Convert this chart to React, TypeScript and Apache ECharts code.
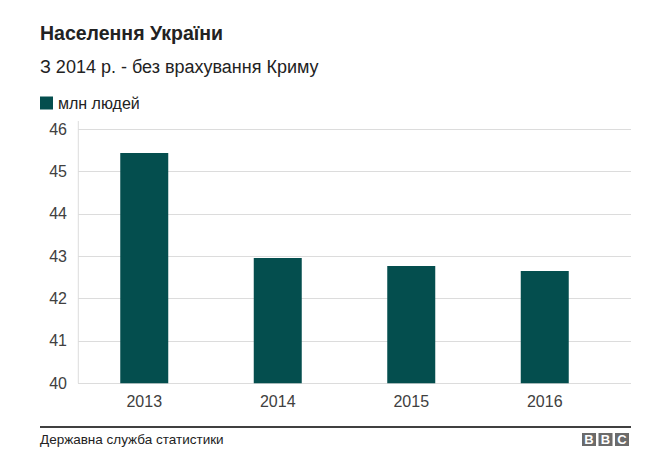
import React, { useEffect, useRef } from "react";
import * as echarts from "echarts";

const years = ["2013", "2014", "2015", "2016"];
const population = [45.44, 42.96, 42.77, 42.65];
const yMin = 40;
const yMax = 46;
const yStep = 1;

const titleText = "Населення України";
const subtitleText = "З 2014 р. - без врахування Криму";
const seriesName = "млн людей";
const sourceText = "Державна служба статистики";

const FONT = "'Liberation Sans', Arial, Helvetica, sans-serif";
const BAR = "#044e4e";
const GRID = "#dcdcdc";

export default function App() {
  const ref = useRef<HTMLDivElement>(null);
  useEffect(() => {
    if (!ref.current) return;
    const chart = echarts.init(ref.current, undefined, { renderer: "svg" });
    const logoLetters = ["B", "B", "C"];
    chart.setOption({
      animation: false,
      backgroundColor: "#ffffff",
      textStyle: { fontFamily: FONT },
      legend: {
        show: true,
        left: 40,
        top: 95,
        itemWidth: 13,
        itemHeight: 13,
        icon: "rect",
        padding: 0,
        textStyle: { fontSize: 16, color: "#222222", fontFamily: FONT },
        data: [seriesName],
      },
      grid: [
        { left: 78, right: 14, top: 129.3, bottom: 88.7, containLabel: false },
        { left: 77.5, right: 33.5, top: 129.3, bottom: 88.7, containLabel: false },
      ],
      xAxis: [
        { type: "category", gridIndex: 0, data: years, show: false },
        {
          type: "category",
          gridIndex: 1,
          data: years,
          axisLine: { show: false },
          axisTick: { show: false },
          axisLabel: { fontSize: 16, color: "#404040", margin: 10, fontFamily: FONT },
        },
      ],
      yAxis: [
        {
          type: "value",
          gridIndex: 0,
          min: yMin,
          max: yMax,
          interval: yStep,
          axisLine: { show: false },
          axisTick: { show: false },
          axisLabel: { fontSize: 16, color: "#404040", margin: 11, fontFamily: FONT },
          splitLine: { show: true, lineStyle: { color: GRID, width: 1 } },
        },
        {
          type: "value",
          gridIndex: 1,
          min: yMin,
          max: yMax,
          interval: yStep,
          show: false,
          splitLine: { show: false },
        },
      ],
      series: [
        {
          name: seriesName,
          type: "bar",
          xAxisIndex: 1,
          yAxisIndex: 1,
          data: population,
          barWidth: 48,
          itemStyle: { color: BAR },
        },
      ],
      graphic: [
        {
          type: "text",
          x: 40,
          y: 33.3,
          style: {
            text: titleText,
            fontSize: 19.5,
            fontWeight: "bold",
            fill: "#222222",
            fontFamily: FONT,
            verticalAlign: "middle",
          },
        },
        {
          type: "text",
          x: 40,
          y: 66.8,
          style: { text: subtitleText, fontSize: 18, fill: "#222222", fontFamily: FONT, verticalAlign: "middle" },
        },
        {
          type: "line",
          shape: { x1: 78.3, y1: 121, x2: 78.3, y2: 383.3 },
          style: { stroke: GRID, lineWidth: 1 },
        },
        {
          type: "line",
          shape: { x1: 40, y1: 427, x2: 631, y2: 427 },
          style: { stroke: "#000000", lineWidth: 1.5 },
        },
        {
          type: "text",
          x: 40,
          y: 439.3,
          style: { text: sourceText, fontSize: 13.5, fill: "#222222", fontFamily: FONT, verticalAlign: "middle" },
        },
        ...logoLetters.flatMap((ch, i) => [
          {
            type: "rect",
            shape: { x: 582 + i * 16.5, y: 433, width: 14, height: 13 },
            style: { fill: "#6b6b6b" },
          },
          {
            type: "text",
            x: 589 + i * 16.5,
            y: 439.7,
            style: {
              text: ch,
              fontSize: 13,
              fontWeight: "bold",
              fill: "#ffffff",
              align: "center",
              verticalAlign: "middle",
              fontFamily: FONT,
            },
          },
        ]),
      ],
    });
    return () => chart.dispose();
  }, []);
  return (
    <div
      ref={ref}
      style={{ position: "fixed", left: 0, top: 0, width: 645, height: 472, background: "#fff" }}
    />
  );
}
